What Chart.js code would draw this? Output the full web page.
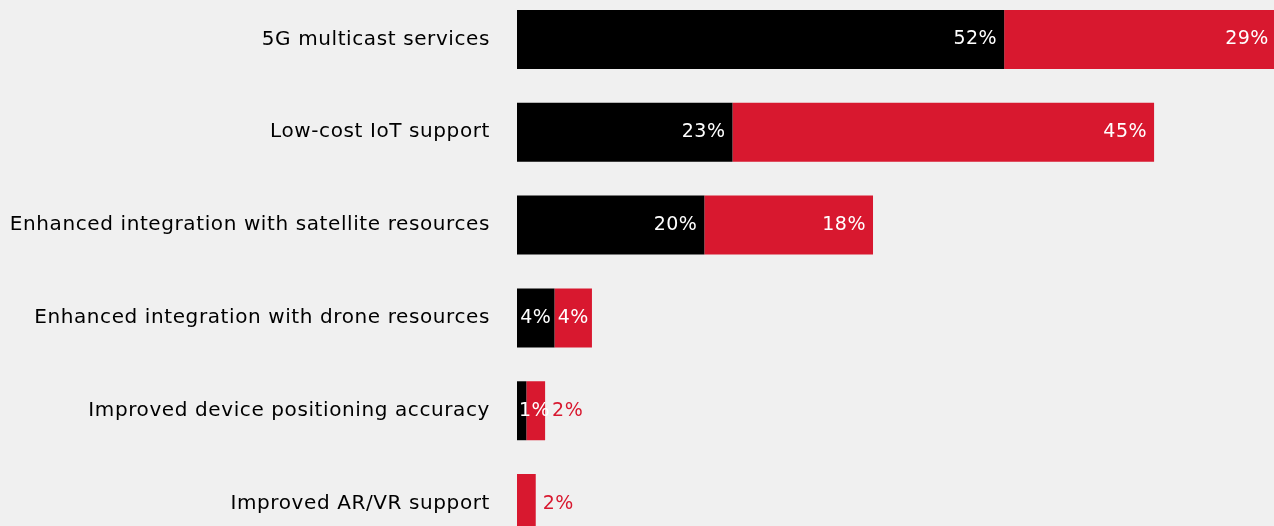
<!DOCTYPE html>
<html>
<head>
<meta charset="utf-8">
<script src="https://cdn.jsdelivr.net/npm/chart.js@4"></script>
<style>
    html, body { margin: 0; padding: 0; background: #f0f0f0; overflow: hidden; }
    #myChart { position: absolute; left: 0; top: -7px; }
</style>
</head>
<body>
<canvas id="myChart" width="1274" height="557"></canvas>
<script>
const categories = [
    "5G multicast services",
    "Low-cost IoT support",
    "Enhanced integration with satellite resources",
    "Enhanced integration with drone resources",
    "Improved device positioning accuracy",
    "Improved AR/VR support"
];
const blackValues = [52, 23, 20, 4, 1, 0];
const redValues = [29, 45, 18, 4, 2, 2];

const RED = '#d8182f';
const FONT = '"DejaVu Sans", sans-serif';

// wider tracking, closer to the original typeface
const spacing = {
    id: 'spacing',
    beforeDraw(chart) { chart.ctx.letterSpacing = '0.6px'; }
};

// % labels: inside at the end if it fits, centred if tight, otherwise outside (red)
const valueLabels = {
    id: 'valueLabels',
    afterDatasetsDraw(chart) {
        const ctx = chart.ctx;
        ctx.save();
        ctx.font = '19px ' + FONT;
        ctx.letterSpacing = '0.5px';
        ctx.textBaseline = 'middle';
        chart.data.datasets.forEach((ds, di) => {
            const meta = chart.getDatasetMeta(di);
            meta.data.forEach((bar, i) => {
                const v = ds.data[i];
                if (!v) return;
                const txt = v + '%';
                const w = ctx.measureText(txt).width;
                const start = bar.base, end = bar.x, bw = end - start;
                if (w + 16 <= bw) {
                    ctx.fillStyle = '#fff';
                    ctx.textAlign = 'right';
                    ctx.fillText(txt, end - 7, bar.y);
                } else if (w <= bw) {
                    ctx.fillStyle = '#fff';
                    ctx.textAlign = 'center';
                    ctx.fillText(txt, (start + end) / 2, bar.y);
                } else if (di === 0) {
                    ctx.fillStyle = '#fff';
                    ctx.textAlign = 'left';
                    ctx.fillText(txt, start + 2, bar.y);
                } else {
                    ctx.fillStyle = RED;
                    ctx.textAlign = 'left';
                    ctx.fillText(txt, end + 7, bar.y);
                }
            });
        });
        ctx.restore();
    }
};

new Chart(document.getElementById('myChart'), {
    type: 'bar',
    data: {
        labels: categories,
        datasets: [
            { data: blackValues, backgroundColor: '#000' },
            { data: redValues, backgroundColor: RED }
        ]
    },
    options: {
        indexAxis: 'y',
        responsive: false,
        animation: false,
        layout: { padding: 0 },
        datasets: { bar: { barPercentage: 0.635, categoryPercentage: 1 } },
        plugins: { legend: { display: false }, tooltip: { enabled: false } },
        scales: {
            x: { stacked: true, display: false, min: 0, max: 80.8 },
            y: {
                stacked: true,
                grid: { display: false, drawTicks: false },
                border: { display: false },
                ticks: { padding: 27, color: '#000', font: { family: FONT, size: 20 } },
                afterFit(scale) {
                    scale.width = 517;
                    scale.paddingTop = 0;
                    scale.paddingBottom = 0;
                }
            }
        }
    },
    plugins: [spacing, valueLabels]
});
</script>
</body>
</html>
